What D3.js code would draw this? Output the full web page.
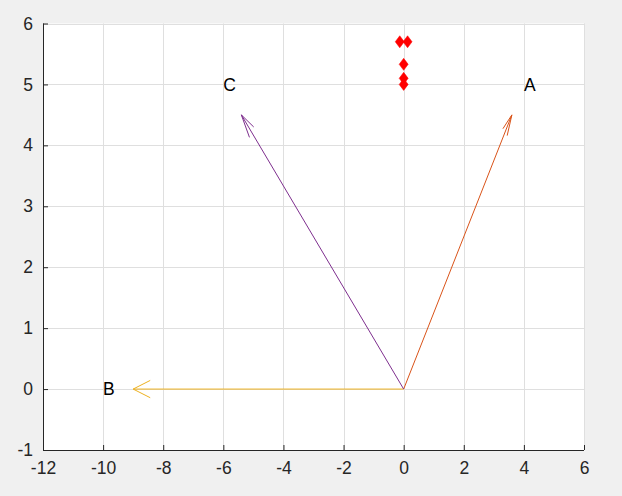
<!DOCTYPE html>
<html>
<head>
<meta charset="utf-8">
<script src="https://cdn.jsdelivr.net/npm/d3@7"></script>
<style>
  html, body { margin: 0; padding: 0; background: #f0f0f0; }
  svg { display: block; }
  .tick text { font-family: "Liberation Sans", Arial, sans-serif; font-size: 17.5px; fill: #262626; }
</style>
</head>
<body>
<div id="chart"></div>
<script>
// quiver vectors from the origin
var names = ['A', 'B', 'C'];
var vecU = [4, -10, -6];
var vecV = [5, 0, 5];
var arrowColors = ['#d95319', '#edb120', '#7e2f8e'];
var quiverScale = 0.9;

// red diamond markers
var dotX = [-0.13, 0.13, 0, 0, 0];
var dotY = [5.7, 5.7, 5.33, 5.1, 5.0];

var xTicks = [-12, -10, -8, -6, -4, -2, 0, 2, 4, 6];
var yTicks = [-1, 0, 1, 2, 3, 4, 5, 6];

var width = 622, height = 496;
var mLeft = 43, mRight = 584, mTop = 23.5, mBottom = 450;

var svg = d3.select('#chart').append('svg')
    .attr('width', width)
    .attr('height', height);

var x = d3.scaleLinear().domain([-12, 6]).range([mLeft, mRight]);
var y = d3.scaleLinear().domain([-1, 6]).range([mBottom, mTop]);

svg.append('rect')
    .attr('x', mLeft).attr('y', mTop)
    .attr('width', mRight - mLeft).attr('height', mBottom - mTop)
    .attr('fill', '#ffffff');

// grid
var grid = svg.append('g').attr('stroke', '#dfdfdf').attr('stroke-width', 1);
xTicks.forEach(function(d) {
    grid.append('line')
        .attr('x1', Math.round(x(d)) + 0.5).attr('x2', Math.round(x(d)) + 0.5)
        .attr('y1', mTop).attr('y2', mBottom);
});
yTicks.forEach(function(d) {
    grid.append('line')
        .attr('x1', mLeft).attr('x2', mRight)
        .attr('y1', Math.round(y(d)) + 0.5).attr('y2', Math.round(y(d)) + 0.5);
});

// arrows
var alpha = 0.063, beta = 0.25;
names.forEach(function(n, i) {
    var u = vecU[i] * quiverScale, v = vecV[i] * quiverScale;
    var g = svg.append('g')
        .attr('stroke', arrowColors[i])
        .attr('stroke-width', 1)
        .attr('fill', 'none');
    g.append('line')
        .attr('x1', x(0)).attr('y1', y(0))
        .attr('x2', x(u)).attr('y2', y(v));
    var h1 = [u - alpha * (u + beta * v), v - alpha * (v - beta * u)];
    var h2 = [u - alpha * (u - beta * v), v - alpha * (v + beta * u)];
    g.append('path')
        .attr('d', d3.line()([[x(h1[0]), y(h1[1])], [x(u), y(v)], [x(h2[0]), y(h2[1])]]));
});

// labels at the unscaled vector ends
names.forEach(function(n, i) {
    svg.append('text')
        .attr('x', x(vecU[i]))
        .attr('y', y(vecV[i]))
        .attr('dy', '0.36em')
        .attr('font-family', '"Liberation Sans", Arial, sans-serif')
        .attr('font-size', '17.5px')
        .attr('fill', '#000')
        .text(n);
});

// diamonds
var diamond = 'M0,-6L4.5,0L0,6L-4.5,0Z';
dotX.forEach(function(d, i) {
    svg.append('path')
        .attr('d', diamond)
        .attr('transform', 'translate(' + x(d) + ',' + y(dotY[i]) + ')')
        .attr('fill', '#ff0000')
        .attr('stroke', '#ff0000')
        .attr('stroke-width', 0.5);
});

// axes
var fmt = function(d) { return String(d); };
var xAxis = d3.axisBottom(x).tickValues(xTicks).tickFormat(fmt).tickSize(-5).tickPadding(12);
var yAxis = d3.axisLeft(y).tickValues(yTicks).tickFormat(fmt).tickSize(-5).tickPadding(10);

var gx = svg.append('g').attr('transform', 'translate(0,' + mBottom + ')').call(xAxis);
var gy = svg.append('g').attr('transform', 'translate(' + mLeft + ',0)').call(yAxis);
[gx, gy].forEach(function(g) {
    g.select('.domain').attr('stroke', '#262626').attr('stroke-width', 1);
    g.selectAll('.tick line').attr('stroke', '#262626');
});
gx.select('.domain').attr('d', 'M' + mLeft + ',0.5H' + mRight);
gy.select('.domain').attr('d', 'M0.5,' + mTop + 'V' + mBottom);
</script>
</body>
</html>
